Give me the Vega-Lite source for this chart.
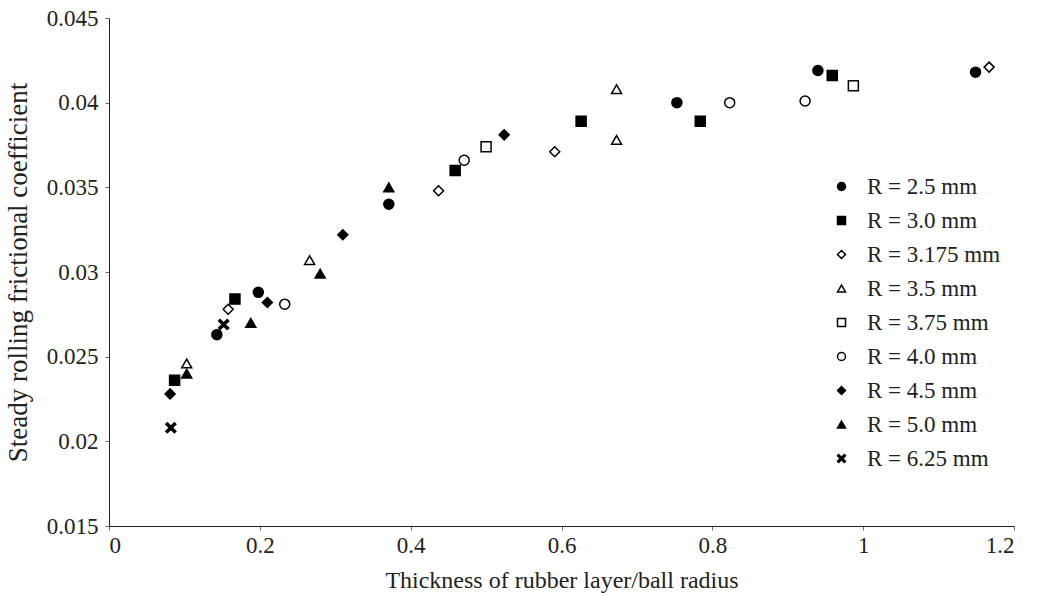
{
  "$schema": "https://vega.github.io/schema/vega-lite/v6.json",
  "autosize": {"type": "none"},
  "padding": {"left": 109, "top": 18, "right": 25, "bottom": 70},
  "width": 905,
  "height": 508,
  "background": "white",
  "config": {
    "view": {"stroke": null},
    "font": "Liberation Serif",
    "axis": {
      "labelFont": "Liberation Serif",
      "titleFont": "Liberation Serif",
      "labelFontSize": 23,
      "titleFontSize": 24,
      "titleFontWeight": "normal",
      "labelColor": "#222",
      "titleColor": "#222",
      "domainColor": "#222",
      "tickColor": "#666",
      "grid": false
    },
    "legend": {
      "labelFont": "Liberation Serif",
      "labelFontSize": 23,
      "labelColor": "#222"
    }
  },
  "data": {
    "values": [
      {"series": "R = 2.5 mm", "ratio": 0.143, "mu": 0.0263},
      {"series": "R = 2.5 mm", "ratio": 0.198, "mu": 0.0288},
      {"series": "R = 2.5 mm", "ratio": 0.371, "mu": 0.0340},
      {"series": "R = 2.5 mm", "ratio": 0.753, "mu": 0.0400},
      {"series": "R = 2.5 mm", "ratio": 0.940, "mu": 0.0419},
      {"series": "R = 2.5 mm", "ratio": 1.149, "mu": 0.0418},
      {"series": "R = 3.0 mm", "ratio": 0.087, "mu": 0.0236},
      {"series": "R = 3.0 mm", "ratio": 0.167, "mu": 0.0284},
      {"series": "R = 3.0 mm", "ratio": 0.459, "mu": 0.0360},
      {"series": "R = 3.0 mm", "ratio": 0.626, "mu": 0.0389},
      {"series": "R = 3.0 mm", "ratio": 0.784, "mu": 0.0389},
      {"series": "R = 3.0 mm", "ratio": 0.959, "mu": 0.0416},
      {"series": "R = 3.175 mm", "ratio": 0.158, "mu": 0.0278},
      {"series": "R = 3.175 mm", "ratio": 0.437, "mu": 0.0348},
      {"series": "R = 3.175 mm", "ratio": 0.591, "mu": 0.0371},
      {"series": "R = 3.175 mm", "ratio": 1.167, "mu": 0.0421},
      {"series": "R = 3.5 mm", "ratio": 0.103, "mu": 0.0246},
      {"series": "R = 3.5 mm", "ratio": 0.266, "mu": 0.0307},
      {"series": "R = 3.5 mm", "ratio": 0.673, "mu": 0.0408},
      {"series": "R = 3.5 mm", "ratio": 0.673, "mu": 0.0378},
      {"series": "R = 3.75 mm", "ratio": 0.500, "mu": 0.0374},
      {"series": "R = 3.75 mm", "ratio": 0.987, "mu": 0.0410},
      {"series": "R = 4.0 mm", "ratio": 0.233, "mu": 0.0281},
      {"series": "R = 4.0 mm", "ratio": 0.471, "mu": 0.0366},
      {"series": "R = 4.0 mm", "ratio": 0.823, "mu": 0.0400},
      {"series": "R = 4.0 mm", "ratio": 0.923, "mu": 0.0401},
      {"series": "R = 4.5 mm", "ratio": 0.081, "mu": 0.0228},
      {"series": "R = 4.5 mm", "ratio": 0.210, "mu": 0.0282},
      {"series": "R = 4.5 mm", "ratio": 0.310, "mu": 0.0322},
      {"series": "R = 4.5 mm", "ratio": 0.524, "mu": 0.0381},
      {"series": "R = 5.0 mm", "ratio": 0.103, "mu": 0.0240},
      {"series": "R = 5.0 mm", "ratio": 0.188, "mu": 0.0270},
      {"series": "R = 5.0 mm", "ratio": 0.280, "mu": 0.0299},
      {"series": "R = 5.0 mm", "ratio": 0.371, "mu": 0.0350},
      {"series": "R = 6.25 mm", "ratio": 0.082, "mu": 0.0208},
      {"series": "R = 6.25 mm", "ratio": 0.152, "mu": 0.0269}
    ]
  },
  "mark": {"type": "point", "filled": false, "stroke": "black", "strokeWidth": 1.5, "size": 100, "opacity": 1},
  "encoding": {
    "x": {
      "field": "ratio", "type": "quantitative",
      "scale": {"domain": [0, 1.2], "nice": false, "zero": false},
      "axis": {
        "title": "Thickness of rubber layer/ball radius",
        "values": [0, 0.2, 0.4, 0.6, 0.8, 1, 1.2],
        "format": "~g",
        "tickSize": 4,
        "labelPadding": 4,
        "titlePadding": 11
      }
    },
    "y": {
      "field": "mu", "type": "quantitative",
      "scale": {"domain": [0.015, 0.045], "nice": false, "zero": false},
      "axis": {
        "title": "Steady rolling frictional coefficient",
        "titleFontSize": 27,
        "values": [0.015, 0.02, 0.025, 0.03, 0.035, 0.04, 0.045],
        "format": "~g",
        "tickSize": 4,
        "labelPadding": 7,
        "titlePadding": 14
      }
    },
    "shape": {
      "field": "series", "type": "nominal",
      "scale": {
        "domain": ["R = 2.5 mm", "R = 3.0 mm", "R = 3.175 mm", "R = 3.5 mm", "R = 3.75 mm", "R = 4.0 mm", "R = 4.5 mm", "R = 5.0 mm", "R = 6.25 mm"],
        "range": ["circle", "square", "diamond", "triangle-up", "square", "circle", "diamond", "triangle-up", "M-1,-0.7L-0.7,-1L0,-0.3L0.7,-1L1,-0.7L0.3,0L1,0.7L0.7,1L0,0.3L-0.7,1L-1,0.7L-0.3,0Z"]
      },
      "legend": {
        "title": null,
        "orient": "none",
        "legendX": 721,
        "legendY": 157,
        "symbolSize": 64,
        "rowPadding": 10,
        "labelOffset": 14,
        "encode": {"symbols": {"update": {"stroke": {"value": "black"}, "strokeWidth": {"value": 1.2}}}}
      }
    },
    "fill": {
      "field": "series", "type": "nominal",
      "scale": {
        "domain": ["R = 2.5 mm", "R = 3.0 mm", "R = 3.175 mm", "R = 3.5 mm", "R = 3.75 mm", "R = 4.0 mm", "R = 4.5 mm", "R = 5.0 mm", "R = 6.25 mm"],
        "range": ["black", "black", "white", "white", "white", "white", "black", "black", "black"]
      },
      "legend": {
        "title": null,
        "orient": "none",
        "legendX": 721,
        "legendY": 157,
        "symbolSize": 64,
        "rowPadding": 10,
        "labelOffset": 14,
        "encode": {"symbols": {"update": {"stroke": {"value": "black"}, "strokeWidth": {"value": 1.2}}}}
      }
    }
  }
}
